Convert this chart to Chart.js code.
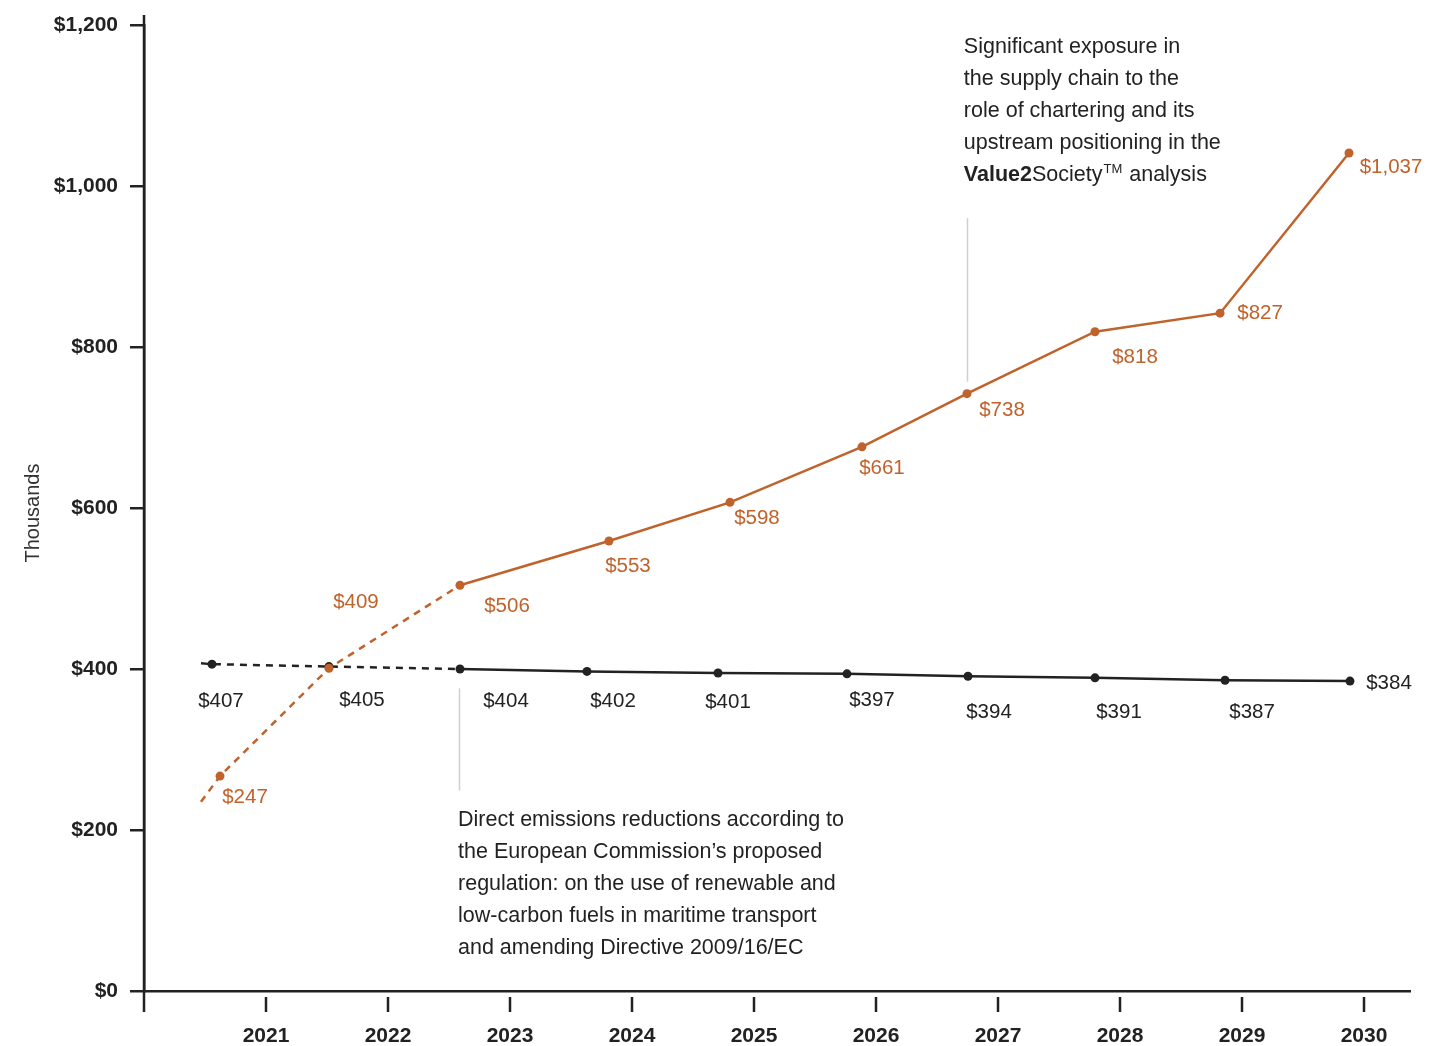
<!DOCTYPE html>
<html>
<head>
<meta charset="utf-8">
<script src="https://cdn.jsdelivr.net/npm/chart.js@4.4.1/dist/chart.umd.min.js"></script>
<style>
  html, body { margin: 0; padding: 0; background: #ffffff; }
  #wrap { width: 1452px; height: 1046px; position: relative; }
</style>
</head>
<body>
<div id="wrap"><canvas id="chart" width="1452" height="1046"></canvas></div>
<script>
// ---------------- DATA ----------------
const years = [2021, 2022, 2023, 2024, 2025, 2026, 2027, 2028, 2029, 2030];
const yTickValues = [0, 200, 400, 600, 800, 1000, 1200];

// Baseline (direct emissions) series - first entry is the dashed lead-in (no marker)
const baselineX = [2020.467, 2020.557, 2021.516, 2022.590, 2023.631, 2024.705, 2025.762, 2026.754, 2027.795, 2028.861, 2029.885];
const baselineY = [407, 406, 403, 400, 397, 395, 394, 391, 389, 386, 385];
const baselineLabels = ['$407', '$405', '$404', '$402', '$401', '$397', '$394', '$391', '$387', '$384'];

// Value2Society series - first entry is the dashed lead-in (no marker)
const societyX = [2020.467, 2020.623, 2021.516, 2022.590, 2023.811, 2024.803, 2025.885, 2026.746, 2027.795, 2028.820, 2029.877];
const societyY = [235, 267, 401, 504, 559, 607, 676, 742, 819, 842, 1041];
const societyLabels = ['$247', '$409', '$506', '$553', '$598', '$661', '$738', '$818', '$827', '$1,037'];

const yAxisTitle = 'Thousands';

const noteTopLines = [
  [{ t: 'Significant exposure in' }],
  [{ t: 'the supply chain to the' }],
  [{ t: 'role of chartering and its' }],
  [{ t: 'upstream positioning in the' }],
  [{ t: 'Value2', bold: true }, { t: 'Society' }, { t: 'TM', sup: true }, { t: ' analysis' }]
];
const noteBottomLines = [
  [{ t: 'Direct emissions reductions according to' }],
  [{ t: 'the European Commission\u2019s proposed' }],
  [{ t: 'regulation: on the use of renewable and' }],
  [{ t: 'low-carbon fuels in maritime transport' }],
  [{ t: 'and amending Directive 2009/16/EC' }]
];

// ---------------- STYLE ----------------
const FONT = "'Liberation Sans', Arial, Helvetica, sans-serif";
const ORANGE = '#C0622B';
const DARK = '#222222';
const LEADER = '#cfcfcf';
const dashedBefore = 3; // segments before this data index are dashed

// label offsets from their point (px), per visible point
const baselineLabelDx = [9, 33, 46, 26, 10, 25, 21, 24, 27, 39];
const baselineLabelDy = [37, 34, 32, 30, 29, 27, 36, 34, 32, 2];
const societyLabelDx = [25, 27, 47, 19, 27, 20, 35, 40, 40, 42];
const societyLabelDy = [21, -66, 21, 25, 16, 22, 17, 26, 0, 14];

// annotation anchors (data coordinates)
const noteTopAnchor = { x: 2026.72, y: 1172.7 };
const noteBottomAnchor = { x: 2022.574, y: 212.4 };
const leaderTop = { x: 2026.746, y1: 960, y2: 757 };
const leaderBottom = { x: 2022.582, y1: 376, y2: 249 };
const NOTE_LINE_H = 32;

const xy = (xs, ys) => xs.map((x, i) => ({ x: x, y: ys[i] }));

const annotationPlugin = {
  id: 'annotations',
  beforeDatasetsDraw(chart) {
    const ctx = chart.ctx;
    const xs = chart.scales.x, ys = chart.scales.y;
    ctx.save();
    ctx.strokeStyle = LEADER;
    ctx.lineWidth = 1.5;
    [leaderTop, leaderBottom].forEach(l => {
      const px = Math.round(xs.getPixelForValue(l.x)) + 0.5;
      ctx.beginPath();
      ctx.moveTo(px, ys.getPixelForValue(l.y1));
      ctx.lineTo(px, ys.getPixelForValue(l.y2));
      ctx.stroke();
    });
    ctx.restore();
  },
  afterDatasetsDraw(chart) {
    const ctx = chart.ctx;
    const ca = chart.chartArea;
    const xs = chart.scales.x, ys = chart.scales.y;
    ctx.save();
    // value labels
    const sets = [
      { di: 0, labels: baselineLabels, dx: baselineLabelDx, dy: baselineLabelDy, color: DARK },
      { di: 1, labels: societyLabels, dx: societyLabelDx, dy: societyLabelDy, color: ORANGE }
    ];
    ctx.font = '20.5px ' + FONT;
    ctx.textAlign = 'center';
    ctx.textBaseline = 'middle';
    sets.forEach(s => {
      const meta = chart.getDatasetMeta(s.di);
      ctx.fillStyle = s.color;
      s.labels.forEach((txt, i) => {
        const el = meta.data[i + 1];
        ctx.fillText(txt, el.x + s.dx[i], el.y + s.dy[i]);
      });
    });

    // notes
    ctx.textAlign = 'left';
    ctx.fillStyle = DARK;
    const drawNote = (lines, anchor) => {
      const x0 = xs.getPixelForValue(anchor.x);
      const y0 = ys.getPixelForValue(anchor.y);
      lines.forEach((runs, li) => {
        let cx = x0;
        const cy = y0 + li * NOTE_LINE_H;
        runs.forEach(r => {
          if (r.sup) {
            ctx.font = '13px ' + FONT;
            ctx.fillText(r.t, cx + 1, cy - 6);
            cx += ctx.measureText(r.t).width + 2;
          } else {
            ctx.font = (r.bold ? 'bold ' : '') + '21.5px ' + FONT;
            ctx.fillText(r.t, cx, cy);
            cx += ctx.measureText(r.t).width;
          }
        });
      });
    };
    drawNote(noteTopLines, noteTopAnchor);
    drawNote(noteBottomLines, noteBottomAnchor);

    // y axis title
    ctx.save();
    ctx.translate(ca.left - 111, (ca.top + ca.bottom) / 2 + 5);
    ctx.rotate(-Math.PI / 2);
    ctx.font = '20px ' + FONT;
    ctx.fillStyle = '#333333';
    ctx.textAlign = 'center';
    ctx.textBaseline = 'middle';
    ctx.fillText(yAxisTitle, 0, 0);
    ctx.restore();

    // axis extension + x tick marks
    ctx.strokeStyle = DARK;
    ctx.lineWidth = 2.5;
    ctx.beginPath();
    ctx.moveTo(ca.left, ca.top - 10);
    ctx.lineTo(ca.left, ca.bottom + 21);
    ctx.stroke();
    years.forEach(v => {
      const px = xs.getPixelForValue(v);
      ctx.beginPath();
      ctx.moveTo(px, ca.bottom + 6);
      ctx.lineTo(px, ca.bottom + 21);
      ctx.stroke();
    });
    ctx.restore();
  }
};

Chart.defaults.font.family = FONT;
Chart.defaults.color = DARK;

new Chart(document.getElementById('chart'), {
  type: 'line',
  data: {
    datasets: [
      {
        label: 'Direct emissions',
        data: xy(baselineX, baselineY),
        borderColor: DARK,
        backgroundColor: DARK,
        borderWidth: 2.5,
        pointRadius: ctx => ctx.dataIndex === 0 ? 0 : 4.5,
        pointHoverRadius: ctx => ctx.dataIndex === 0 ? 0 : 4.5,
        pointBorderWidth: 0,
        tension: 0,
        order: 1,
        segment: { borderDash: c => c.p0DataIndex < dashedBefore ? [7, 6] : undefined }
      },
      {
        label: 'Value2Society',
        data: xy(societyX, societyY),
        borderColor: ORANGE,
        backgroundColor: ORANGE,
        borderWidth: 2.5,
        pointRadius: ctx => ctx.dataIndex === 0 ? 0 : 4.5,
        pointHoverRadius: ctx => ctx.dataIndex === 0 ? 0 : 4.5,
        pointBorderWidth: 0,
        tension: 0,
        order: 0,
        segment: { borderDash: c => c.p0DataIndex < dashedBefore ? [7, 6] : undefined }
      }
    ]
  },
  options: {
    responsive: false,
    animation: false,
    events: [],
    layout: { padding: { left: 0, right: 42, top: 25, bottom: 0 } },
    plugins: { legend: { display: false }, tooltip: { enabled: false } },
    scales: {
      x: {
        type: 'linear',
        min: 2020,
        max: 2030.377,
        afterFit: s => { s.height = 55; },
        afterBuildTicks: s => { s.ticks = years.map(v => ({ value: v })); },
        border: { display: true, color: DARK, width: 2.5 },
        grid: { display: true, drawOnChartArea: false, drawTicks: true, tickLength: 22, tickColor: 'rgba(0,0,0,0)' },
        ticks: {
          autoSkip: false,
          maxRotation: 0,
          padding: 11,
          color: DARK,
          font: { size: 21, weight: 'bold' },
          callback: v => String(v)
        }
      },
      y: {
        min: 0,
        max: 1200,
        afterFit: s => { s.width = 144; },
        afterBuildTicks: s => { s.ticks = yTickValues.map(v => ({ value: v })); },
        border: { display: true, color: DARK, width: 2.5 },
        grid: { display: true, drawOnChartArea: false, drawTicks: true, tickLength: 14, tickColor: DARK, tickWidth: 2.5, lineWidth: 2.5 },
        ticks: {
          padding: 12,
          color: DARK,
          font: { size: 21, weight: 'bold' },
          callback: v => '$' + Number(v).toLocaleString('en-US')
        }
      }
    }
  },
  plugins: [annotationPlugin]
});
</script>
</body>
</html>
